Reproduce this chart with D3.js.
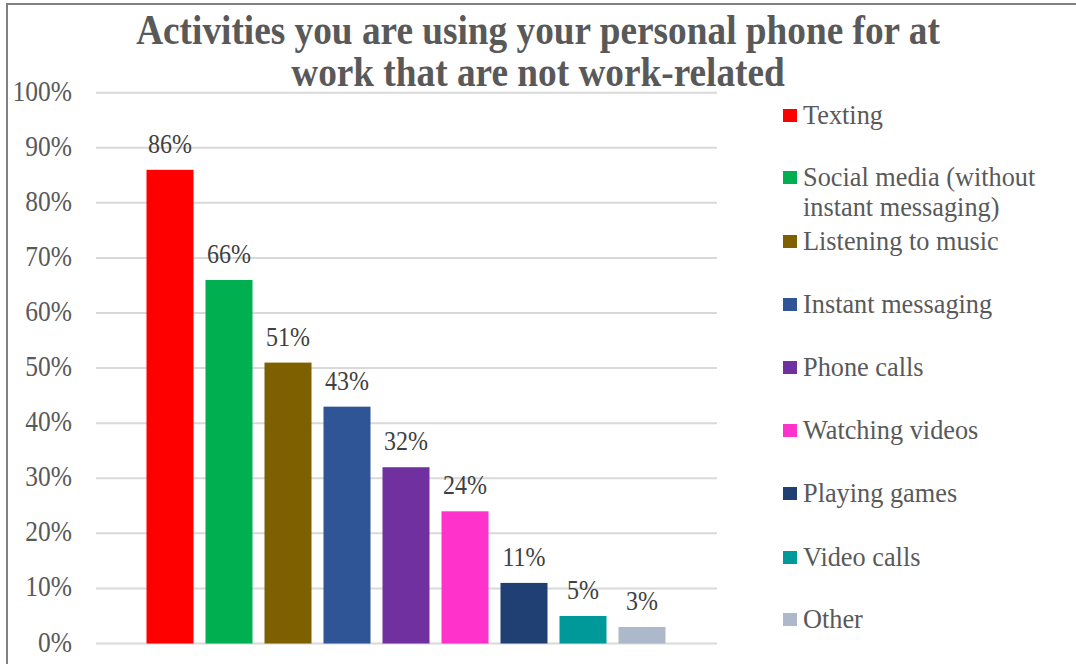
<!DOCTYPE html>
<html>
<head>
<meta charset="utf-8">
<script src="https://cdn.jsdelivr.net/npm/d3@7"></script>
<style>
  html, body { margin: 0; padding: 0; background: #fff; }
  svg { display: block; }
</style>
</head>
<body>
<svg id="chart" width="1076" height="664"></svg>
<script>
const titleLines = ["Activities you are using your personal phone for at", "work that are not work-related"];
const categories = ["Texting", "Social media (without instant messaging)", "Listening to music", "Instant messaging", "Phone calls", "Watching videos", "Playing games", "Video calls", "Other"];
const legendLabels = [["Texting"], ["Social media (without", "instant messaging)"], ["Listening to music"], ["Instant messaging"], ["Phone calls"], ["Watching videos"], ["Playing games"], ["Video calls"], ["Other"]];
const values = [86, 66, 51, 43, 32, 24, 11, 5, 3];
const yTicks = [0, 10, 20, 30, 40, 50, 60, 70, 80, 90, 100];
const palette = ["#FF0000", "#00B050", "#7F6000", "#2F5597", "#7030A0", "#FF33CC", "#203F73", "#009999", "#ADB9CA"];

const svg = d3.select("#chart");
const FONT = "'Liberation Serif', 'Times New Roman', serif";
const SY = 1.12;

// outer border (left + top)
svg.append("path").attr("d", "M7,664 V4 H1076")
  .attr("fill", "none").attr("stroke", "#808080").attr("stroke-width", 2);

const plot = { left: 96, right: 717, top: 92.7, bottom: 643.5 };
const y = d3.scaleLinear().domain([0, 100]).range([plot.bottom, plot.top]);
const x = d3.scaleBand().domain(categories).range([140.5, 671.5])
  .paddingInner(12 / 59).paddingOuter(6 / 59);
const color = d3.scaleOrdinal().domain(categories).range(palette);

function stext(g, x0, y0, txt, size, anchor, fill, weight, sy) {
  return g.append("text")
    .attr("transform", `translate(${x0},${y0}) scale(1,${sy})`)
    .attr("text-anchor", anchor)
    .attr("font-family", FONT)
    .attr("font-size", size)
    .attr("font-weight", weight || "normal")
    .attr("fill", fill)
    .text(txt);
}

// gridlines
const grid = svg.append("g");
yTicks.forEach(t => {
  grid.append("line")
    .attr("x1", plot.left).attr("x2", plot.right)
    .attr("y1", y(t)).attr("y2", y(t))
    .attr("stroke", "#D9D9D9").attr("stroke-width", 2);
});

// y axis via d3.axisLeft, styled
const yAxis = d3.axisLeft(y).tickValues(yTicks).tickFormat(d => d + "%").tickSize(0).tickPadding(0);
const ag = svg.append("g").attr("transform", "translate(72,0)").call(yAxis);
ag.select(".domain").remove();
ag.selectAll(".tick text").remove();
ag.selectAll(".tick").each(function(d) {
  stext(d3.select(this), 0, 7.5, d + "%", 25.5, "end", "#595959", "normal", SY);
});

// bars
svg.append("g").selectAll("rect").data(values).join("rect")
  .attr("x", (d, i) => x(categories[i]))
  .attr("width", x.bandwidth())
  .attr("y", d => y(d))
  .attr("height", d => y(0) - y(d))
  .attr("fill", (d, i) => color(categories[i]));

// data labels
const lg = svg.append("g");
values.forEach((v, i) => {
  stext(lg, x(categories[i]) + x.bandwidth() / 2, y(v) - 17, v + "%", 24, "middle", "#404040", "normal", 1.1);
});

// title
const tg = svg.append("g");
titleLines.forEach((l, i) => {
  stext(tg, 538, 44 + i * 42, l, 37.3, "middle", "#595959", "bold", 1.13);
});

// legend
const legCenters = [116, 178, 242, 305, 368, 431, 494, 558, 620];
const leg = svg.append("g");
categories.forEach((c, i) => {
  leg.append("rect").attr("x", 783).attr("y", legCenters[i] - 7)
    .attr("width", 14).attr("height", 13).attr("fill", color(c));
  legendLabels[i].forEach((line, j) => {
    stext(leg, 803, legCenters[i] + 7.5 + j * 30, line, 26.3, "start", "#595959", "normal", 1.0);
  });
});
</script>
</body>
</html>
